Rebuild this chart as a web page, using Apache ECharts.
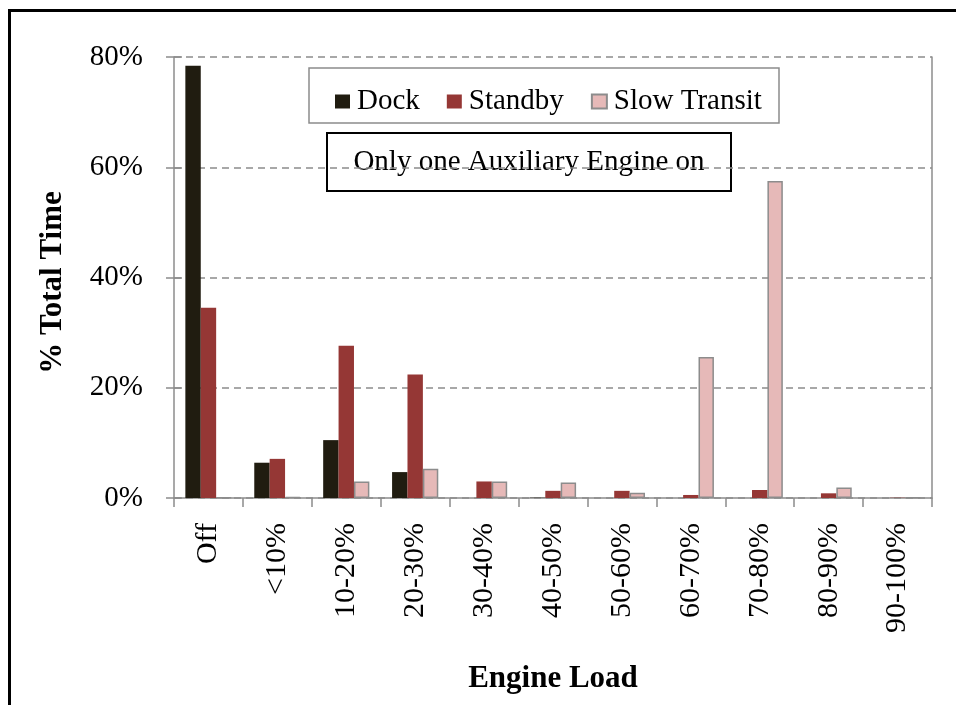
<!DOCTYPE html>
<html>
<head>
<meta charset="utf-8">
<script src="https://cdn.jsdelivr.net/npm/echarts@6/dist/echarts.min.js"></script>
<style>
html,body{margin:0;padding:0;background:#fff;}
#chart{width:956px;height:705px;}
</style>
</head>
<body>
<div id="chart"></div>
<script>
const categories = ['Off', '<10%', '10-20%', '20-30%', '30-40%', '40-50%', '50-60%', '60-70%', '70-80%', '80-90%', '90-100%'];
const dock = [78.4, 6.4, 10.5, 4.7, 0, 0.05, 0, 0, 0, 0, 0];
const standby = [34.5, 7.1, 27.6, 22.4, 3.0, 1.3, 1.3, 0.55, 1.45, 0.85, 0.05];
const slowTransit = [0.1, 0.2, 3.0, 5.3, 3.0, 2.8, 0.96, 25.6, 57.5, 1.9, 0.1];
const yTicks = [0, 20, 40, 60, 80];

const FONT = '"Liberation Serif", "Times New Roman", serif';
const AXIS_GRAY = '#8c8c8c';

const chart = echarts.init(document.getElementById('chart'));
chart.setOption({
  animation: false,
  backgroundColor: '#fff',
  textStyle: { fontFamily: FONT },
  grid: { left: 174, right: 24, top: 57, bottom: 207, containLabel: false },
  legend: {
    left: 330, top: 82,
    itemWidth: 15, itemHeight: 14, itemGap: 27,
    icon: 'rect',
    textStyle: { fontFamily: FONT, fontSize: 29, color: '#000', padding: [0, 0, 0, 2] },
    data: ['Dock', 'Standby', 'Slow Transit']
  },
  xAxis: {
    type: 'category',
    data: categories,
    boundaryGap: true,
    axisLine: { lineStyle: { color: AXIS_GRAY, width: 1.5 } },
    axisTick: { show: true, alignWithLabel: false, length: 9, lineStyle: { color: AXIS_GRAY, width: 1.5 } },
    axisLabel: { rotate: 90, margin: 25, fontFamily: FONT, fontSize: 30, color: '#000', interval: 0 },
    name: 'Engine Load',
    nameLocation: 'middle',
    nameGap: 165,
    nameTextStyle: { fontFamily: FONT, fontSize: 31, fontWeight: 'bold', color: '#000' }
  },
  yAxis: [{
    type: 'value',
    min: yTicks[0], max: yTicks[yTicks.length - 1], interval: 20,
    position: 'left',
    axisLine: { show: true, lineStyle: { color: AXIS_GRAY, width: 1.5 } },
    axisTick: { show: true, length: 8, lineStyle: { color: AXIS_GRAY, width: 1.5 } },
    axisLabel: { formatter: '{value}%', margin: 31, fontFamily: FONT, fontSize: 29, color: '#000' },
    splitLine: { show: true, lineStyle: { color: AXIS_GRAY, type: [7, 5], width: 1.5 } },
    name: '% Total Time',
    nameLocation: 'middle',
    nameGap: 106,
    nameRotate: 90,
    nameTextStyle: { fontFamily: FONT, fontSize: 31, fontWeight: 'bold', color: '#000', padding: [0, 10, 0, 0] }
  }, {
    type: 'value',
    min: yTicks[0], max: yTicks[yTicks.length - 1], interval: 20,
    position: 'right',
    axisLine: { show: true, lineStyle: { color: AXIS_GRAY, width: 1.5 } },
    axisTick: { show: false },
    axisLabel: { show: false },
    splitLine: { show: false }
  }, {
    type: 'value',
    min: yTicks[0], max: yTicks[yTicks.length - 1], interval: 20,
    position: 'left',
    offset: 0,
    axisLine: { show: false },
    axisTick: { show: true, inside: true, length: 8, lineStyle: { color: AXIS_GRAY, width: 1.5 } },
    axisLabel: { show: false },
    splitLine: { show: false }
  }],
  series: [
    {
      name: 'Dock', type: 'bar', data: dock,
      barWidth: 15.4, barGap: '0%',
      itemStyle: { color: '#201c10' }
    },
    {
      name: 'Standby', type: 'bar', data: standby,
      barWidth: 15.4, barGap: '0%',
      itemStyle: { color: '#953735' }
    },
    {
      name: 'Slow Transit', type: 'bar', data: slowTransit,
      barWidth: 15.4, barGap: '0%',
      itemStyle: { color: '#e6b9b8', borderColor: '#8c8c8c', borderWidth: 1.5 }
    }
  ],
  graphic: [
    {
      type: 'rect', z: 0, silent: true,
      shape: { x: 9.5, y: 10.5, width: 960, height: 720 },
      style: { fill: 'none', stroke: '#000', lineWidth: 3 }
    },
    {
      type: 'rect', z: 1, silent: true,
      shape: { x: 309, y: 68, width: 470, height: 55 },
      style: { fill: '#fff', stroke: AXIS_GRAY, lineWidth: 1.5 }
    },
    {
      type: 'group', z: 100,
      children: [
        {
          type: 'rect', silent: true,
          shape: { x: 327, y: 133, width: 404, height: 58 },
          style: { fill: '#fff', stroke: '#000', lineWidth: 2 }
        },
        {
          type: 'text', silent: true,
          x: 529, y: 162,
          style: {
            text: 'Only one Auxiliary Engine on',
            font: '29px ' + FONT,
            fill: '#000',
            align: 'center', verticalAlign: 'middle'
          }
        }
      ]
    }
  ]
});
</script>
</body>
</html>
